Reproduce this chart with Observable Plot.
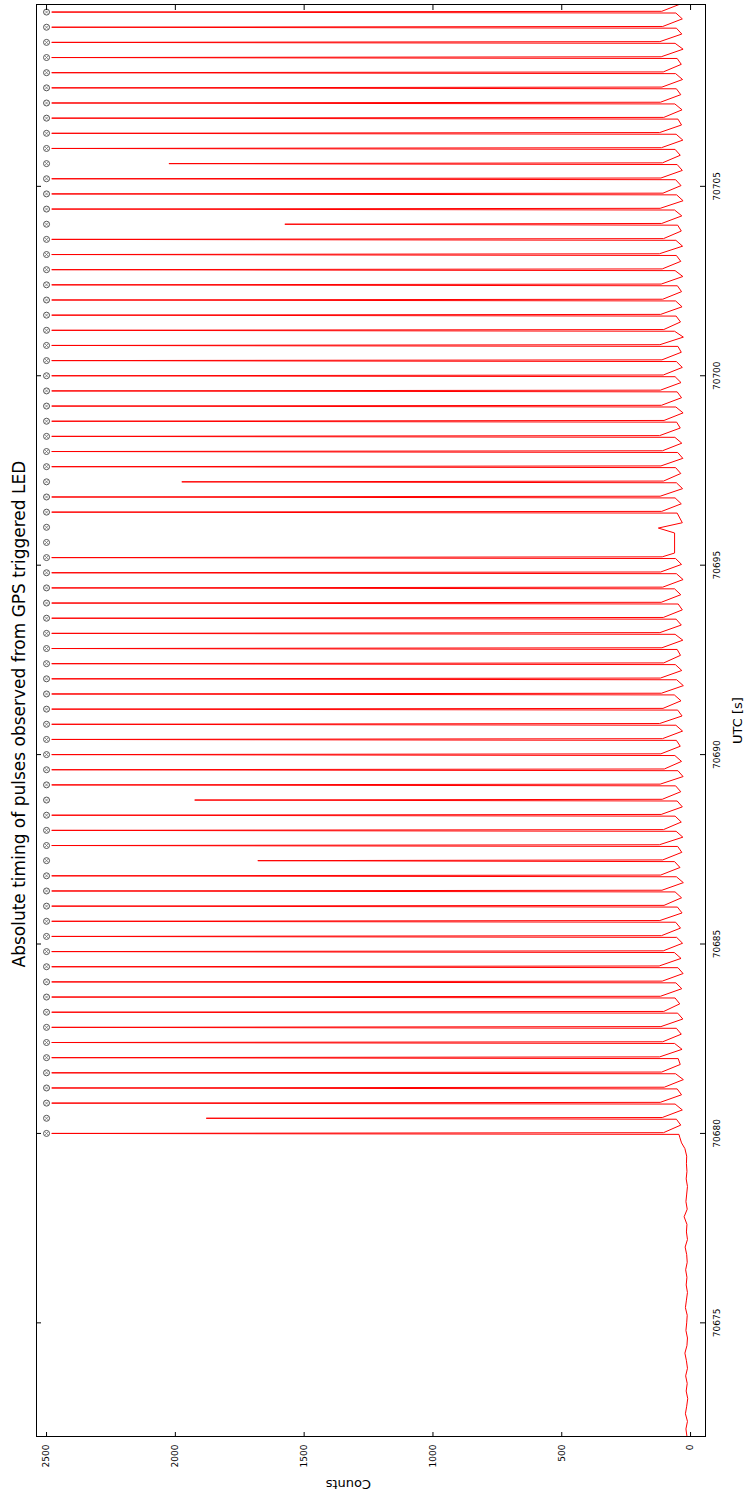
<!DOCTYPE html>
<html>
<head>
<meta charset="utf-8">
<script src="https://cdn.jsdelivr.net/npm/d3@7"></script>
<script src="https://cdn.jsdelivr.net/npm/@observablehq/plot@0.6"></script>
<style>
  html, body { margin: 0; padding: 0; background: #fff; }
  #wrap { position: relative; width: 749px; height: 1500px; overflow: hidden; background: #fff; }
  #wrap > svg {
    position: absolute; left: 0; top: 0;
    width: 1500px !important; height: 749px !important; max-width: none !important;
    transform-origin: 0 0; transform: translate(0px, 1500px) rotate(-90deg);
  }
</style>
</head>
<body>
<div id="wrap"></div>
<script>
// ---- data ----
const titleText = "Absolute timing of pulses observed from GPS triggered LED";
const xLabel = "UTC [s]";
const yLabel = "Counts";
const utcTicks = [70675, 70680, 70685, 70690, 70695, 70700, 70705];
const countTicks = [0, 500, 1000, 1500, 2000, 2500];
const markerLevel = 2500;

// quiet baseline before the LED starts
const baseTimes = [70672.0, 70672.2, 70672.4, 70672.6, 70672.8, 70673.0, 70673.2, 70673.4, 70673.6, 70673.8,
  70674.0, 70674.2, 70674.4, 70674.6, 70674.8, 70675.0, 70675.2, 70675.4, 70675.6, 70675.8,
  70676.0, 70676.2, 70676.4, 70676.6, 70676.8, 70677.0, 70677.2, 70677.4, 70677.6, 70677.8,
  70678.0, 70678.2, 70678.4, 70678.6, 70678.8, 70679.0, 70679.2, 70679.4, 70679.6, 70679.75, 70679.9];
const baseCounts = [14, 18, 12, 20, 15, 11, 17, 13, 19, 12,
  16, 22, 14, 12, 18, 15, 13, 20, 16, 12,
  17, 14, 19, 13, 15, 21, 12, 16, 14, 25,
  13, 18, 15, 12, 17, 14, 16, 15, 22, 35, 42];

// GPS pulse times (one every 0.4 s)
const pulseTimes = [
  70680.0, 70680.4, 70680.8, 70681.2, 70681.6, 70682.0, 70682.4, 70682.8, 70683.2, 70683.6,
  70684.0, 70684.4, 70684.8, 70685.2, 70685.6, 70686.0, 70686.4, 70686.8, 70687.2, 70687.6,
  70688.0, 70688.4, 70688.8, 70689.2, 70689.6, 70690.0, 70690.4, 70690.8, 70691.2, 70691.6,
  70692.0, 70692.4, 70692.8, 70693.2, 70693.6, 70694.0, 70694.4, 70694.8, 70695.2, 70695.6,
  70696.0, 70696.4, 70696.8, 70697.2, 70697.6, 70698.0, 70698.4, 70698.8, 70699.2, 70699.6,
  70700.0, 70700.4, 70700.8, 70701.2, 70701.6, 70702.0, 70702.4, 70702.8, 70703.2, 70703.6,
  70704.0, 70704.4, 70704.8, 70705.2, 70705.6, 70706.0, 70706.4, 70706.8, 70707.2, 70707.6,
  70708.0, 70708.4, 70708.8, 70709.2, 70709.6];
// peak counts (null = pulse not seen)
const peakCounts = [
  2480, 1880, 2480, 2480, 2480, 2480, 2480, 2480, 2480, 2480,
  2480, 2480, 2480, 2480, 2480, 2480, 2480, 2480, 1680, 2480,
  2480, 2480, 1925, 2480, 2480, 2480, 2480, 2480, 2480, 2480,
  2480, 2480, 2480, 2480, 2480, 2480, 2480, 2480, 2480, null,
  null, 2480, 2480, 1975, 2480, 2480, 2480, 2480, 2480, 2480,
  2480, 2480, 2480, 2480, 2480, 2480, 2480, 2480, 2480, 2480,
  1575, 2480, 2480, 2480, 2025, 2480, 2480, 2480, 2480, 2480,
  2480, 2480, 2480, 2480, 2480];
// count just before each pulse rises
const riseCounts = [
  45, 55, 60, 52, 58, 48, 62, 55, 50, 60,
  57, 49, 63, 54, 58, 51, 60, 55, 62, 50,
  56, 60, 52, 58, 49, 61, 55, 57, 50, 63,
  54, 59, 52, 60, 56, 48, 62, 55, 58, null,
  null, 52, 60, 55, 58, 50, 61, 54, 57, 52,
  60, 55, 49, 62, 56, 58, 51, 60, 55, 57,
  50, 62, 54, 58, 52, 60, 56, 49, 61, 55,
  58, 52, 60, 55, 57];
// count just after each pulse falls
const fallCounts = [
  105, 110, 118, 102, 112, 120, 108, 115, 104, 117,
  110, 122, 106, 113, 119, 103, 111, 116, 108, 121,
  105, 114, 110, 118, 102, 115, 109, 120, 107, 113,
  117, 104, 111, 119, 106, 114, 108, 116, 110, null,
  null, 112, 118, 105, 115, 109, 120, 103, 113, 117,
  106, 111, 119, 104, 116, 108, 114, 110, 121, 105,
  112, 118, 107, 115, 109, 113, 120, 104, 117, 111,
  106, 114, 119, 108, 112];
// lowest count between pulses
const apexCounts = [
  38, 32, 35, 28, 40, 33, 36, 30, 42, 34,
  29, 37, 31, 39, 33, 35, 28, 41, 34, 30,
  36, 32, 38, 29, 35, 40, 31, 33, 37, 28,
  34, 39, 30, 36, 32, 38, 29, 35, 33, null,
  null, 36, 31, 38, 30, 34, 40, 29, 35, 37,
  32, 36, 28, 39, 33, 35, 30, 38, 31, 36,
  34, 29, 37, 32, 40, 30, 35, 33, 38, 31,
  36, 29, 34, 32, 37];
// red trace through the two missed pulses
const gapTimes = [70695.32, 70695.85, 70695.98, 70696.12];
const gapCounts = [62, 62, 125, 32];
// sample offsets around each pulse [s]
const riseLead = 0.025, fallLag = 0.02, apexLag = 0.22;

// ---- build the trace ----
const trace = [];
baseTimes.forEach((t, i) => trace.push({t, c: baseCounts[i]}));
let gapDone = false;
for (let i = 0; i < pulseTimes.length; i++) {
  const T = pulseTimes[i];
  if (peakCounts[i] == null) {
    if (!gapDone) { gapTimes.forEach((t, j) => trace.push({t, c: gapCounts[j]})); gapDone = true; }
    continue;
  }
  trace.push({t: T - riseLead, c: riseCounts[i]});
  trace.push({t: T, c: peakCounts[i]});
  trace.push({t: T + fallLag, c: fallCounts[i]});
  if (i + 1 >= pulseTimes.length || peakCounts[i + 1] != null) trace.push({t: T + apexLag, c: apexCounts[i]});
}

// ---- chart (drawn landscape, then turned a quarter-turn) ----
const W = 1500, H = 749;
const mT = 36, mB = 44, mL = 63, mR = 5;
const pw = W - mL - mR, ph = H - mT - mB;
const tick = 5;

const chart = Plot.plot({
  width: W, height: H,
  marginTop: mT, marginBottom: mB, marginLeft: mL, marginRight: mR,
  x: {domain: [70672.0, 70709.8], label: null},
  y: {domain: [-58, 2539], label: null},
  style: {fontFamily: "DejaVu Sans, sans-serif", background: "#fff", color: "#000", overflow: "visible"},
  marks: [
    Plot.line(trace, {x: "t", y: "c", stroke: "#ff0000", strokeWidth: 1, clip: true}),
    Plot.dot(pulseTimes, {x: d => d, y: () => markerLevel, r: 3, stroke: "#444", strokeWidth: 0.9}),
    Plot.dot(pulseTimes, {x: d => d, y: () => markerLevel, r: 1.6, symbol: "times", stroke: "#666", strokeWidth: 0.7}),
    Plot.frame({stroke: "#000", strokeWidth: 1}),
    Plot.tickX(utcTicks, {x: d => d, insetTop: ph - tick, stroke: "#000"}),
    Plot.tickX(utcTicks, {x: d => d, insetBottom: ph - tick, stroke: "#000"}),
    Plot.tickY(countTicks, {y: d => d, insetRight: pw - tick, stroke: "#000"}),
    Plot.tickY(countTicks, {y: d => d, insetLeft: pw - tick, stroke: "#000"}),
    Plot.axisX(utcTicks, {tickSize: 0, tickPadding: 8, fontSize: 9, tickFormat: d => String(d), label: null}),
    Plot.axisY(countTicks, {tickSize: 0, tickPadding: 8, fontSize: 9, tickFormat: d => String(d), label: null}),
    Plot.text([titleText], {text: d => d, frameAnchor: "top-left", dx: 469, dy: -12, textAnchor: "start", lineAnchor: "bottom", fontSize: 17}),
    Plot.text([xLabel], {text: d => d, frameAnchor: "bottom", dy: 32, lineAnchor: "middle", fontSize: 13}),
    Plot.text([yLabel], {text: d => d, frameAnchor: "left", dx: -48, rotate: -90, fontSize: 13})
  ]
});
document.getElementById("wrap").appendChild(chart);
</script>
</body>
</html>
